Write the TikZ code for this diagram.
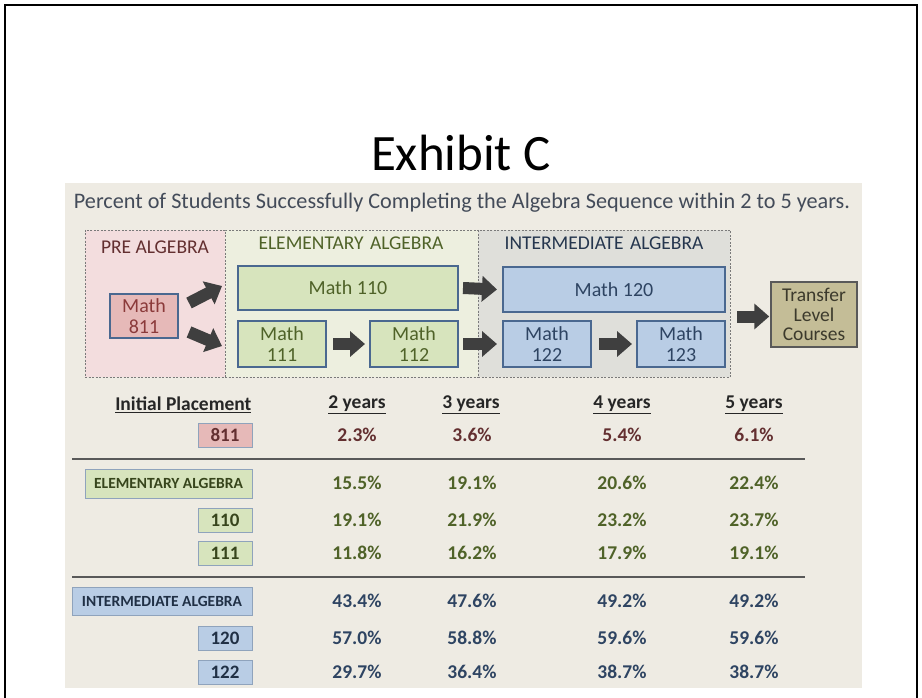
\documentclass[tikz,border=0pt]{standalone}
\usepackage{fontspec}
\setmainfont{Carlito}
\usetikzlibrary{arrows.meta,calc}
\definecolor{panel}{HTML}{EEEBE3}
\definecolor{prefill}{HTML}{F3DDDE}
\definecolor{elemfill}{HTML}{EDEFDF}
\definecolor{interfill}{HTML}{DFDFDA}
\definecolor{zoneline}{HTML}{7A7A7A}
\definecolor{redbox}{HTML}{E6B9B8}
\definecolor{greenbox}{HTML}{D7E4BD}
\definecolor{bluebox}{HTML}{B9CDE5}
\definecolor{tanbox}{HTML}{C4BD97}
\definecolor{boxline}{HTML}{4A6890}
\definecolor{redtxt}{HTML}{8B3A3A}
\definecolor{redtxtd}{HTML}{632F30}
\definecolor{greentxt}{HTML}{4F6228}
\definecolor{bluetxt}{HTML}{2E4462}
\definecolor{tantxt}{HTML}{3C3A2C}
\definecolor{subtxt}{HTML}{434B59}
\definecolor{arrowc}{HTML}{3F3F3F}
\definecolor{tabline}{HTML}{8FA3BC}
\begin{document}
\begin{tikzpicture}[x=1pt,y=-1pt,
  zone/.style={draw=zoneline, line width=0.8pt, dash pattern=on 2pt off 1.5pt, inner sep=0pt},
  course/.style={draw=boxline, line width=2pt, inner sep=0pt, align=center, font=\fontsize{20}{21}\selectfont},
  blk/.style={draw=arrowc, line width=12pt, -{Triangle[width=25pt,length=15pt]}},
  zlabel/.style={font=\fontsize{19.5}{23}\selectfont},
  tbox/.style={draw=tabline, line width=1pt, inner sep=0pt, font=\bfseries\fontsize{19}{22}\selectfont},
  hdr/.style={font=\bfseries\fontsize{19.5}{23}\selectfont, text=black!85},
  pct/.style={font=\bfseries\fontsize{19.5}{22}\selectfont}
]
\useasboundingbox (0,0) rectangle (922,698);
\fill[white] (0,0) rectangle (922,698);
\draw[line width=2pt] (5,698) -- (5,5) -- (917,5) -- (917,698);
\fill[panel] (65,183) rectangle (862,688);

\node (title) at (461,153) {\fontsize{51}{56}\selectfont Exhibit C};
\node[text=subtxt] (sub) at (462,203) {\fontsize{22.2}{26}\selectfont Percent of Students Successfully Completing the Algebra Sequence within 2 to 5 years.};

% zones
\node[zone, fill=prefill, minimum width=140pt, minimum height=147pt] (pre) at (155,303.5) {};
\node[zone, fill=elemfill, minimum width=253pt, minimum height=147pt] (elem) at (351.5,303.5) {};
\node[zone, fill=interfill, minimum width=252pt, minimum height=147pt] (inter) at (604,303.5) {};
\node[zlabel, text=redtxtd] (prelab) at (155,247) {PRE ALGEBRA};
\node[zlabel, text=greentxt] (elemlab) at (351,243) {ELEMENTARY\,\,ALGEBRA};
\node[zlabel, text=bluetxt!80!black] (interlab) at (604,243) {INTERMEDIATE\,\,ALGEBRA};

% courses
\node[course, fill=redbox, text=redtxt, minimum width=68pt, minimum height=44pt] (m811) at (144,316) {Math\\811};
\node[course, fill=greenbox, text=greentxt, minimum width=220pt, minimum height=44pt] (m110) at (348,288) {Math 110};
\node[course, fill=greenbox, text=greentxt, minimum width=88pt, minimum height=46pt] (m111) at (282,344) {Math\\111};
\node[course, fill=greenbox, text=greentxt, minimum width=88pt, minimum height=46pt] (m112) at (414,344) {Math\\112};
\node[course, fill=bluebox, text=bluetxt, minimum width=222pt, minimum height=45pt] (m120) at (614,289.5) {Math 120};
\node[course, fill=bluebox, text=bluetxt, minimum width=88pt, minimum height=46pt] (m122) at (547,344) {Math\\122};
\node[course, fill=bluebox, text=bluetxt, minimum width=88pt, minimum height=46pt] (m123) at (681,344) {Math\\123};
\node[course, draw=gray!70!black, line width=1.5pt, fill=tanbox, text=tantxt, minimum width=86pt, minimum height=65pt, font=\fontsize{19.5}{19.5}\selectfont] (trans) at (814,314.5) {Transfer\\Level\\Courses};

% block arrows
\draw[blk] ($(m811.east)+(10,-13)$) -- ($(m110.west)+(-15,-2)$);
\draw[blk] ($(m811.east)+(10,16)$) -- ($(m111.west)+(-15,2)$);
\draw[blk] ($(m111.east)+(6,0)$) -- ($(m112.west)+(-4,0)$);
\draw[blk] ($(m110.east)+(4,0)$) -- ($(m120.west)+(-5,0)$);
\draw[blk] ($(m112.east)+(4,0)$) -- ($(m122.west)+(-5,0)$);
\draw[blk] ($(m122.east)+(7,0)$) -- ($(m123.west)+(-4,0)$);
\draw[blk] ($(inter.east)+(7,13)$) -- ($(trans.west)+(-1,2)$);

% table header
\node[hdr, anchor=east] (hip) at (255,405) {\underline{Initial Placement}};
\node[hdr] (h2) at (357,405) {\underline{2 years}};
\node[hdr] (h3) at (471,405) {\underline{3 years}};
\node[hdr] (h4) at (622,405) {\underline{4 years}};
\node[hdr] (h5) at (754,405) {\underline{5 years}};

% row labels
\node[tbox, fill=redbox, text=redtxtd, minimum width=54pt, minimum height=24pt] (l811) at (225,435.5) {811};
\node[tbox, fill=greenbox, text=greentxt!70!black, minimum width=167pt, minimum height=29pt, font=\bfseries\fontsize{15.5}{18}\selectfont] (lelem) at (168.5,483.5) {ELEMENTARY ALGEBRA};
\node[tbox, fill=greenbox, text=greentxt!70!black, minimum width=54pt, minimum height=24pt] (l110) at (225,520) {110};
\node[tbox, fill=greenbox, text=greentxt!70!black, minimum width=54pt, minimum height=24pt] (l111) at (225,553) {111};
\node[tbox, fill=bluebox, text=bluetxt!70!black, minimum width=180pt, minimum height=28pt, font=\bfseries\fontsize{15.5}{18}\selectfont] (linter) at (162,601) {INTERMEDIATE ALGEBRA};
\node[tbox, fill=bluebox, text=bluetxt!70!black, minimum width=54pt, minimum height=24pt] (l120) at (225,638) {120};
\node[tbox, fill=bluebox, text=bluetxt!70!black, minimum width=54pt, minimum height=24pt] (l122) at (225,672) {122};

% separators
\coordinate (s1a) at (72,459); \coordinate (s1b) at (805,459);
\coordinate (s2a) at (72,577); \coordinate (s2b) at (805,577);
\draw[black!65, line width=1.2pt] (s1a) -- (s1b);
\draw[black!65, line width=1.2pt] (s2a) -- (s2b);

% percentages
\foreach \r/\y/\c/\a/\b/\cc/\d in {
  1/435/redtxtd/2.3/3.6/5.4/6.1,
  2/483/greentxt/15.5/19.1/20.6/22.4,
  3/520/greentxt/19.1/21.9/23.2/23.7,
  4/553/greentxt/11.8/16.2/17.9/19.1,
  5/601/bluetxt/43.4/47.6/49.2/49.2,
  6/638/bluetxt/57.0/58.8/59.6/59.6,
  7/672/bluetxt/29.7/36.4/38.7/38.7}{
  \node[pct, text=\c] (p\r a) at (357,\y) {\a\%};
  \node[pct, text=\c] (p\r b) at (472,\y) {\b\%};
  \node[pct, text=\c] (p\r c) at (622,\y) {\cc\%};
  \node[pct, text=\c] (p\r d) at (754,\y) {\d\%};
}
\end{tikzpicture}
\end{document}
